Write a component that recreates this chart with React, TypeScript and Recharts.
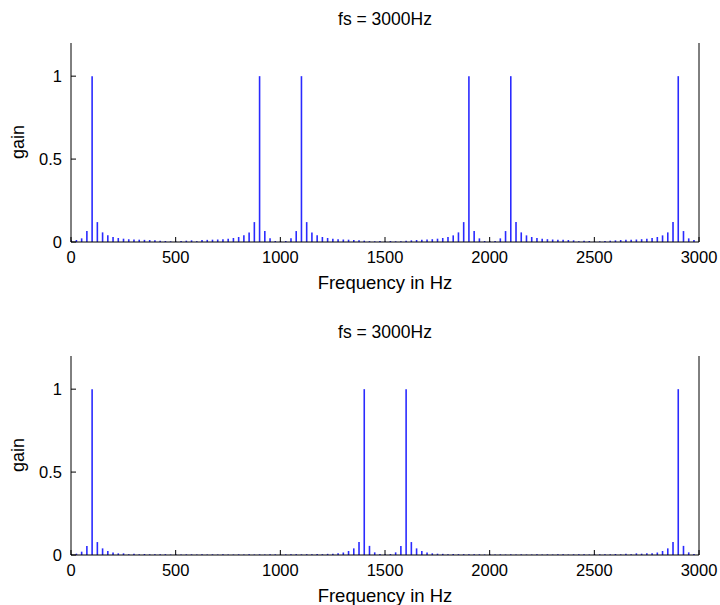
import { ComposedChart, Bar, XAxis, YAxis, Label } from "recharts";

// frequency bins are fs/N apart (N = 120)
const FS = 3000;
const BIN_HZ = 25;
const xTicks = [0, 500, 1000, 1500, 2000, 2500, 3000];
const yTicks = [0, 0.5, 1];

// |X(k)|, normalised, first plot (tones alias to 100/900/1100 ...)
const gainTop = [
  0.010, 0.012, 0.022, 0.066, 1.0, 0.120, 0.058, 0.040, 0.030, 0.024,
  0.020, 0.017, 0.015, 0.014, 0.013, 0.012, 0.010, 0.008, 0.006, 0.004,
  0.003, 0.006, 0.008, 0.010, 0.005, 0.012, 0.013, 0.014, 0.015, 0.017,
  0.020, 0.024, 0.030, 0.040, 0.058, 0.120, 1.0, 0.066, 0.022, 0.006,
  0.004, 0.006, 0.022, 0.066, 1.0, 0.120, 0.058, 0.040, 0.030, 0.024,
  0.020, 0.017, 0.015, 0.014, 0.012, 0.010, 0.008, 0.005, 0.004, 0.006,
  0.003, 0.006, 0.004, 0.005, 0.008, 0.010, 0.012, 0.014, 0.015, 0.017,
  0.020, 0.024, 0.030, 0.040, 0.058, 0.120, 1.0, 0.066, 0.022, 0.006,
  0.004, 0.006, 0.022, 0.066, 1.0, 0.120, 0.058, 0.040, 0.030, 0.024,
  0.020, 0.017, 0.015, 0.014, 0.013, 0.012, 0.010, 0.005, 0.008, 0.006,
  0.003, 0.004, 0.006, 0.008, 0.010, 0.012, 0.013, 0.014, 0.015, 0.017,
  0.020, 0.024, 0.030, 0.040, 0.058, 0.120, 1.0, 0.066, 0.022, 0.012,
];

// second plot (100/1400/1600/2900)
const gainBottom = [
  0.006, 0.008, 0.020, 0.055, 1.0, 0.078, 0.040, 0.024, 0.015, 0.010,
  0.010, 0.005, 0.008, 0.004, 0.006, 0.004, 0.005, 0.004, 0.005, 0.003,
  0.005, 0.003, 0.004, 0.004, 0.003, 0.004, 0.003, 0.004, 0.003, 0.004,
  0.003, 0.003, 0.004, 0.003, 0.004, 0.003, 0.004, 0.003, 0.004, 0.004,
  0.003, 0.004, 0.004, 0.005, 0.004, 0.005, 0.005, 0.006, 0.005, 0.007,
  0.008, 0.010, 0.015, 0.024, 0.040, 0.078, 1.0, 0.055, 0.016, 0.006,
  0.004, 0.006, 0.016, 0.055, 1.0, 0.078, 0.040, 0.024, 0.015, 0.010,
  0.008, 0.007, 0.005, 0.006, 0.005, 0.005, 0.004, 0.004, 0.004, 0.003,
  0.004, 0.003, 0.004, 0.003, 0.004, 0.003, 0.004, 0.003, 0.003, 0.004,
  0.003, 0.004, 0.003, 0.004, 0.004, 0.003, 0.004, 0.004, 0.005, 0.003,
  0.005, 0.004, 0.005, 0.004, 0.006, 0.004, 0.008, 0.005, 0.010, 0.008,
  0.010, 0.010, 0.015, 0.024, 0.040, 0.078, 1.0, 0.055, 0.016, 0.006,
];

const FONT = "'Liberation Sans', Arial, sans-serif";
const tickStyle = { fill: "#000", fontSize: 16.5, fontFamily: FONT };

function SpectrumPlot({ gain, top, height }: { gain: number[]; top: number; height: number }) {
  const data = gain.map((g, i) => ({ f: i * BIN_HZ, g }));
  const axisH = height - 43 - 199;
  return (
    <div style={{ position: "absolute", left: 0, top, width: 720, height }}>
      <div
        style={{
          position: "absolute", left: 0, width: 770, top: 8, textAlign: "center",
          fontFamily: FONT, fontSize: 17.5, lineHeight: "22px",
        }}
      >
        fs = {FS}Hz
      </div>
      <div style={{ position: "absolute", left: 18, top: 142, width: 0, height: 0 }}>
        <div
          style={{
            position: "absolute", transform: "translate(-50%, -50%) rotate(-90deg)",
            fontFamily: FONT, fontSize: 18, whiteSpace: "nowrap",
          }}
        >
          gain
        </div>
      </div>
      <ComposedChart
        width={720}
        height={height}
        data={data}
        margin={{ top: 43, right: 0, bottom: 0, left: 0 }}
        style={{ position: "absolute", left: 0, top: 0 }}
      >
        <XAxis
          xAxisId="b"
          dataKey="f"
          type="number"
          domain={[0, 3000]}
          allowDataOverflow
          ticks={xTicks}
          height={axisH}
          tickSize={-5}
          tickMargin={14}
          interval={0}
          tick={tickStyle}
          stroke="#000"
          tickLine={{ stroke: "#000" }}
        >
          <Label
            value="Frequency in Hz"
            position="insideTop"
            offset={34}
            style={{ fill: "#000", fontSize: 18.5, fontFamily: FONT }}
          />
        </XAxis>
        <XAxis
          xAxisId="t"
          orientation="top"
          type="number"
          domain={[0, 3000]}
          allowDataOverflow
          ticks={xTicks}
          height={0}
          tickSize={-5}
          tick={false}
          stroke="#000"
          tickLine={{ stroke: "#000" }}
        />
        <YAxis
          yAxisId="l"
          type="number"
          domain={[0, 1.2]}
          allowDataOverflow
          ticks={yTicks}
          width={71}
          tickSize={-5}
          tickMargin={14}
          interval={0}
          tick={tickStyle}
          stroke="#000"
          tickLine={{ stroke: "#000" }}
        />
        <YAxis
          yAxisId="r"
          orientation="right"
          type="number"
          domain={[0, 1.2]}
          allowDataOverflow
          ticks={yTicks}
          width={21}
          tickSize={-5}
          tick={false}
          stroke="#000"
          tickLine={{ stroke: "#000" }}
        />
        <Bar
          xAxisId="b"
          yAxisId="l"
          dataKey="g"
          fill="#2a2aff"
          barSize={1.6}
          isAnimationActive={false}
        />
      </ComposedChart>
    </div>
  );
}

export default function App() {
  return (
    <div style={{ position: "absolute", left: 0, top: 0, width: 720, height: 605, background: "#fff" }}>
      <SpectrumPlot gain={gainTop} top={0} height={302} />
      <SpectrumPlot gain={gainBottom} top={313} height={292} />
    </div>
  );
}
